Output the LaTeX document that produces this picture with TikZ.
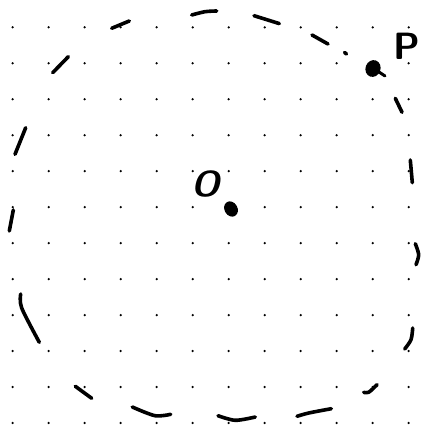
\documentclass[tikz,border=0pt]{standalone}
\begin{document}
\begin{tikzpicture}[x=1pt,y=-1pt,
  pen/.style={line width=3.6pt,line cap=round,line join=round},
  griddot/.style={fill=black},
  lbl/.style={inner sep=0pt,font=\sffamily\bfseries\fontsize{38}{38}\selectfont}]
\useasboundingbox (0,0) rectangle (425,427);
\fill[white] (0,0) rectangle (425,427);
% dot grid
\foreach \i in {0,...,11}{
  \foreach \j in {0,...,11}{
    \fill[griddot] ({12.7+36*\i},{27.3+35.97*\j}) circle (1.25);
  }
}
% dashed hand-drawn circle
\draw[pen] (111.7,28.3) -- (129.3,21);
\draw[pen] (52.7,72.7) -- (68.3,56.7);
\draw[pen] (15,154.3) -- (25.7,127.7);
\draw[pen] plot[smooth] coordinates {(191.7,15) (205,11.7) (216.7,11)};
\draw[pen] (254,15.7) -- (279.3,23.6);
\draw[pen] (312,35) -- (328,44);
\draw[pen] (344.5,52.5) -- (346.5,54);
\draw[pen] (395.3,98.3) -- (402,112.3);
\draw[pen] (410.3,160) -- (412.3,182.7);
\draw[pen] (13.3,210) -- (9.3,231);
\draw[pen] plot[smooth] coordinates {(415.3,243.7) (418.7,254.7) (416,264.7)};
\draw[pen] plot[smooth] coordinates {(20.7,294) (21.7,308) (39.3,342.3)};
\draw[pen] plot[smooth] coordinates {(412.7,328) (411,339.7) (404.7,349)};
\draw[pen] (75.3,386.3) -- (91.7,398.3);
\draw[pen] plot[smooth] coordinates {(132.3,407) (155,415.7) (170.7,414.3)};
\draw[pen] plot[smooth] coordinates {(218,415.7) (235.3,420.3) (255.3,417)};
\draw[pen] plot[smooth] coordinates {(297,416.3) (308.7,413) (331.3,408.7)};
\draw[pen] plot[smooth] coordinates {(363.7,392.3) (368.7,392.3) (377,384.7)};
% points
\coordinate (Pc) at (373,68.5);
\coordinate (Oc) at (231,209);
\fill[rotate around={-20:(Pc)}] (Pc) ellipse (7.5 and 8.5);
\draw[pen,line width=3pt] (379,72) -- (385,76);
\fill[rotate around={30:(Oc)}] (Oc) ellipse (6.5 and 8);
% labels
\node[lbl,font=\sffamily\bfseries\slshape\fontsize{36}{36}\selectfont] (Olabel) at (206,184) {O};
\node[lbl] (Plabel) at (406.5,46.5) {P};
\end{tikzpicture}
\end{document}
